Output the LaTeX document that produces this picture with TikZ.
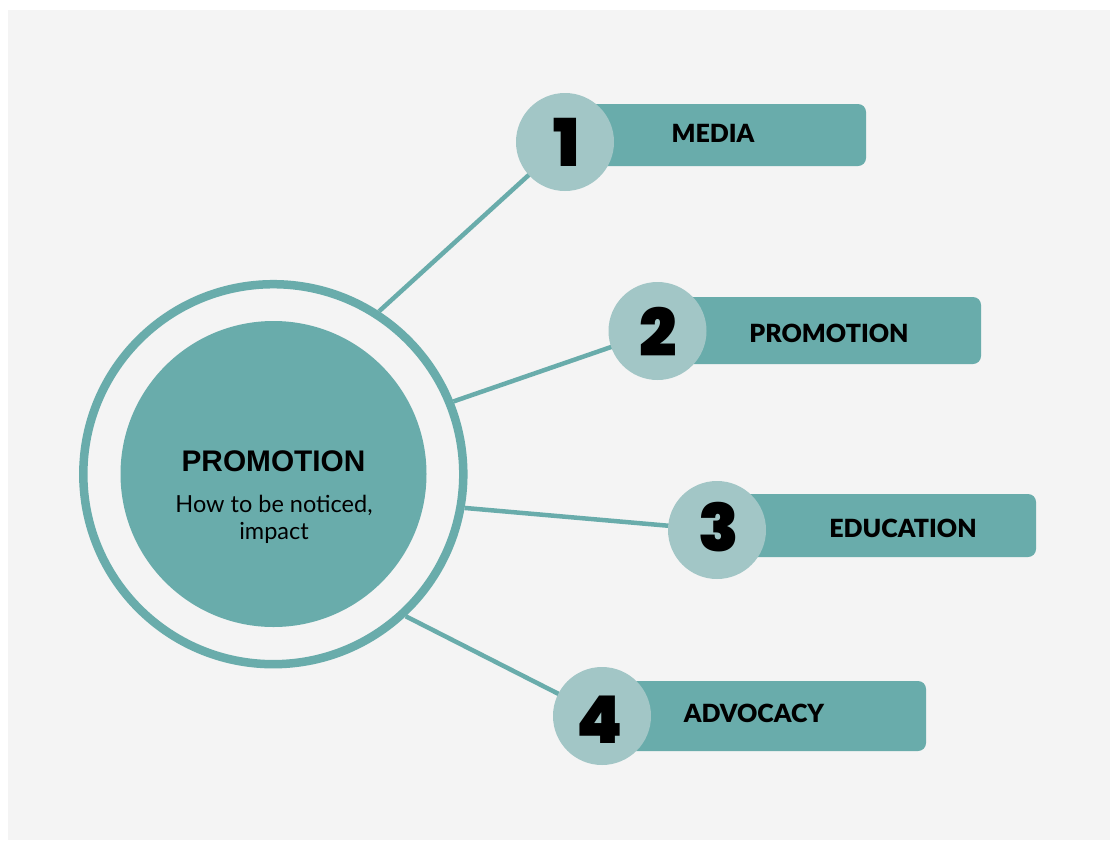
\documentclass[tikz,border=0pt]{standalone}
\usepackage{fontspec}
\setmainfont{Lato}
\newfontfamily\titlefont{Liberation Sans}
\IfFontExistsTF{Poppins Black}{\newfontfamily\digitfont{Poppins Black}\newcommand\digface{\digitfont}}{\newfontfamily\digitfont{Poppins}\newcommand\digface{\digitfont\bfseries}}
\IfFontExistsTF{Lato Black}{\newfontfamily\labelfont{Lato Black}\newcommand\lblface{\labelfont}}{\newfontfamily\labelfont{Lato}\newcommand\lblface{\labelfont\bfseries}}
\definecolor{tealmain}{HTML}{69ACAB}
\definecolor{teallight}{HTML}{A2C6C6}
\definecolor{panelgray}{HTML}{F4F4F4}
\begin{document}
\begin{tikzpicture}[x=1pt,y=-1pt,
  ringstyle/.style={circle, draw=tealmain, line width=8.5pt, minimum size=380pt, inner sep=0pt},
  corestyle/.style={circle, fill=tealmain, minimum size=306pt, inner sep=0pt},
  conn/.style={draw=tealmain, line width=4.5pt},
  bar/.style={fill=tealmain, rounded corners=8pt, inner sep=0pt},
  numc/.style={circle, fill=teallight, minimum size=98pt, inner sep=0pt},
  digit/.style={anchor=base, font=\digface\fontsize{66}{66}\selectfont, text=black, inner sep=0pt},
  lbl/.style={anchor=base, font=\lblface\fontsize{25}{30}\selectfont, text=black, inner sep=0pt},
  subtxt/.style={anchor=base, font=\fontsize{23.5}{28}\selectfont, inner sep=0pt}
]
\fill[white] (0,0) rectangle (1116,841);
\fill[panelgray] (8,10) rectangle (1110,840);
\useasboundingbox (0,0) rectangle (1116,841);

% centre
\node[ringstyle] (ring) at (273.3,474.2) {};
\node[corestyle] (core) at (273.5,474) {};
\node[anchor=base, font=\titlefont\bfseries\fontsize{29.8}{32}\selectfont, inner sep=0pt] (title) at (273.5,471.5) {PROMOTION};
\node[subtxt] (sub1) at (274,512) {How to be noticed,};
\node[subtxt] (sub2) at (274,539) {impact};

% circle centres
\coordinate (p1) at (565,142);
\coordinate (p2) at (657.5,331);
\coordinate (p3) at (717,530);
\coordinate (p4) at (602,716);

% connectors
\draw[conn] (ring.57.5) -- (p1);
\draw[conn] (ring.22) -- (p2);
\draw[conn] (ring.-10) -- (p3);
\draw[conn] (ring.-47.9) -- (p4);

% bars
\node[bar, minimum width=301pt, minimum height=62pt] (b1) at (715.5,135) {};
\node[bar, minimum width=324pt, minimum height=67pt] (b2) at (819,330.5) {};
\node[bar, minimum width=319pt, minimum height=63pt] (b3) at (876.5,525.5) {};
\node[bar, minimum width=324pt, minimum height=70pt] (b4) at (764,716) {};

% number circles
\node[numc] (c1) at (p1) {};
\node[numc] (c2) at (p2) {};
\node[numc] (c3) at (p3) {};
\node[numc] (c4) at (p4) {};

\node[digit] (d1) at (567,166) {1};
\node[digit] (d2) at (658,356) {2};
\node[digit] (d3) at (719,551) {3};
\node[digit] (d4) at (600,743) {4};

% labels
\node[lbl] (l1) at (713,142) {MEDIA};
\node[lbl] (l2) at (829,342) {PROMOTION};
\node[lbl] (l3) at (903,537) {EDUCATION};
\node[lbl] (l4) at (754,722) {ADVOCACY};
\end{tikzpicture}
\end{document}
